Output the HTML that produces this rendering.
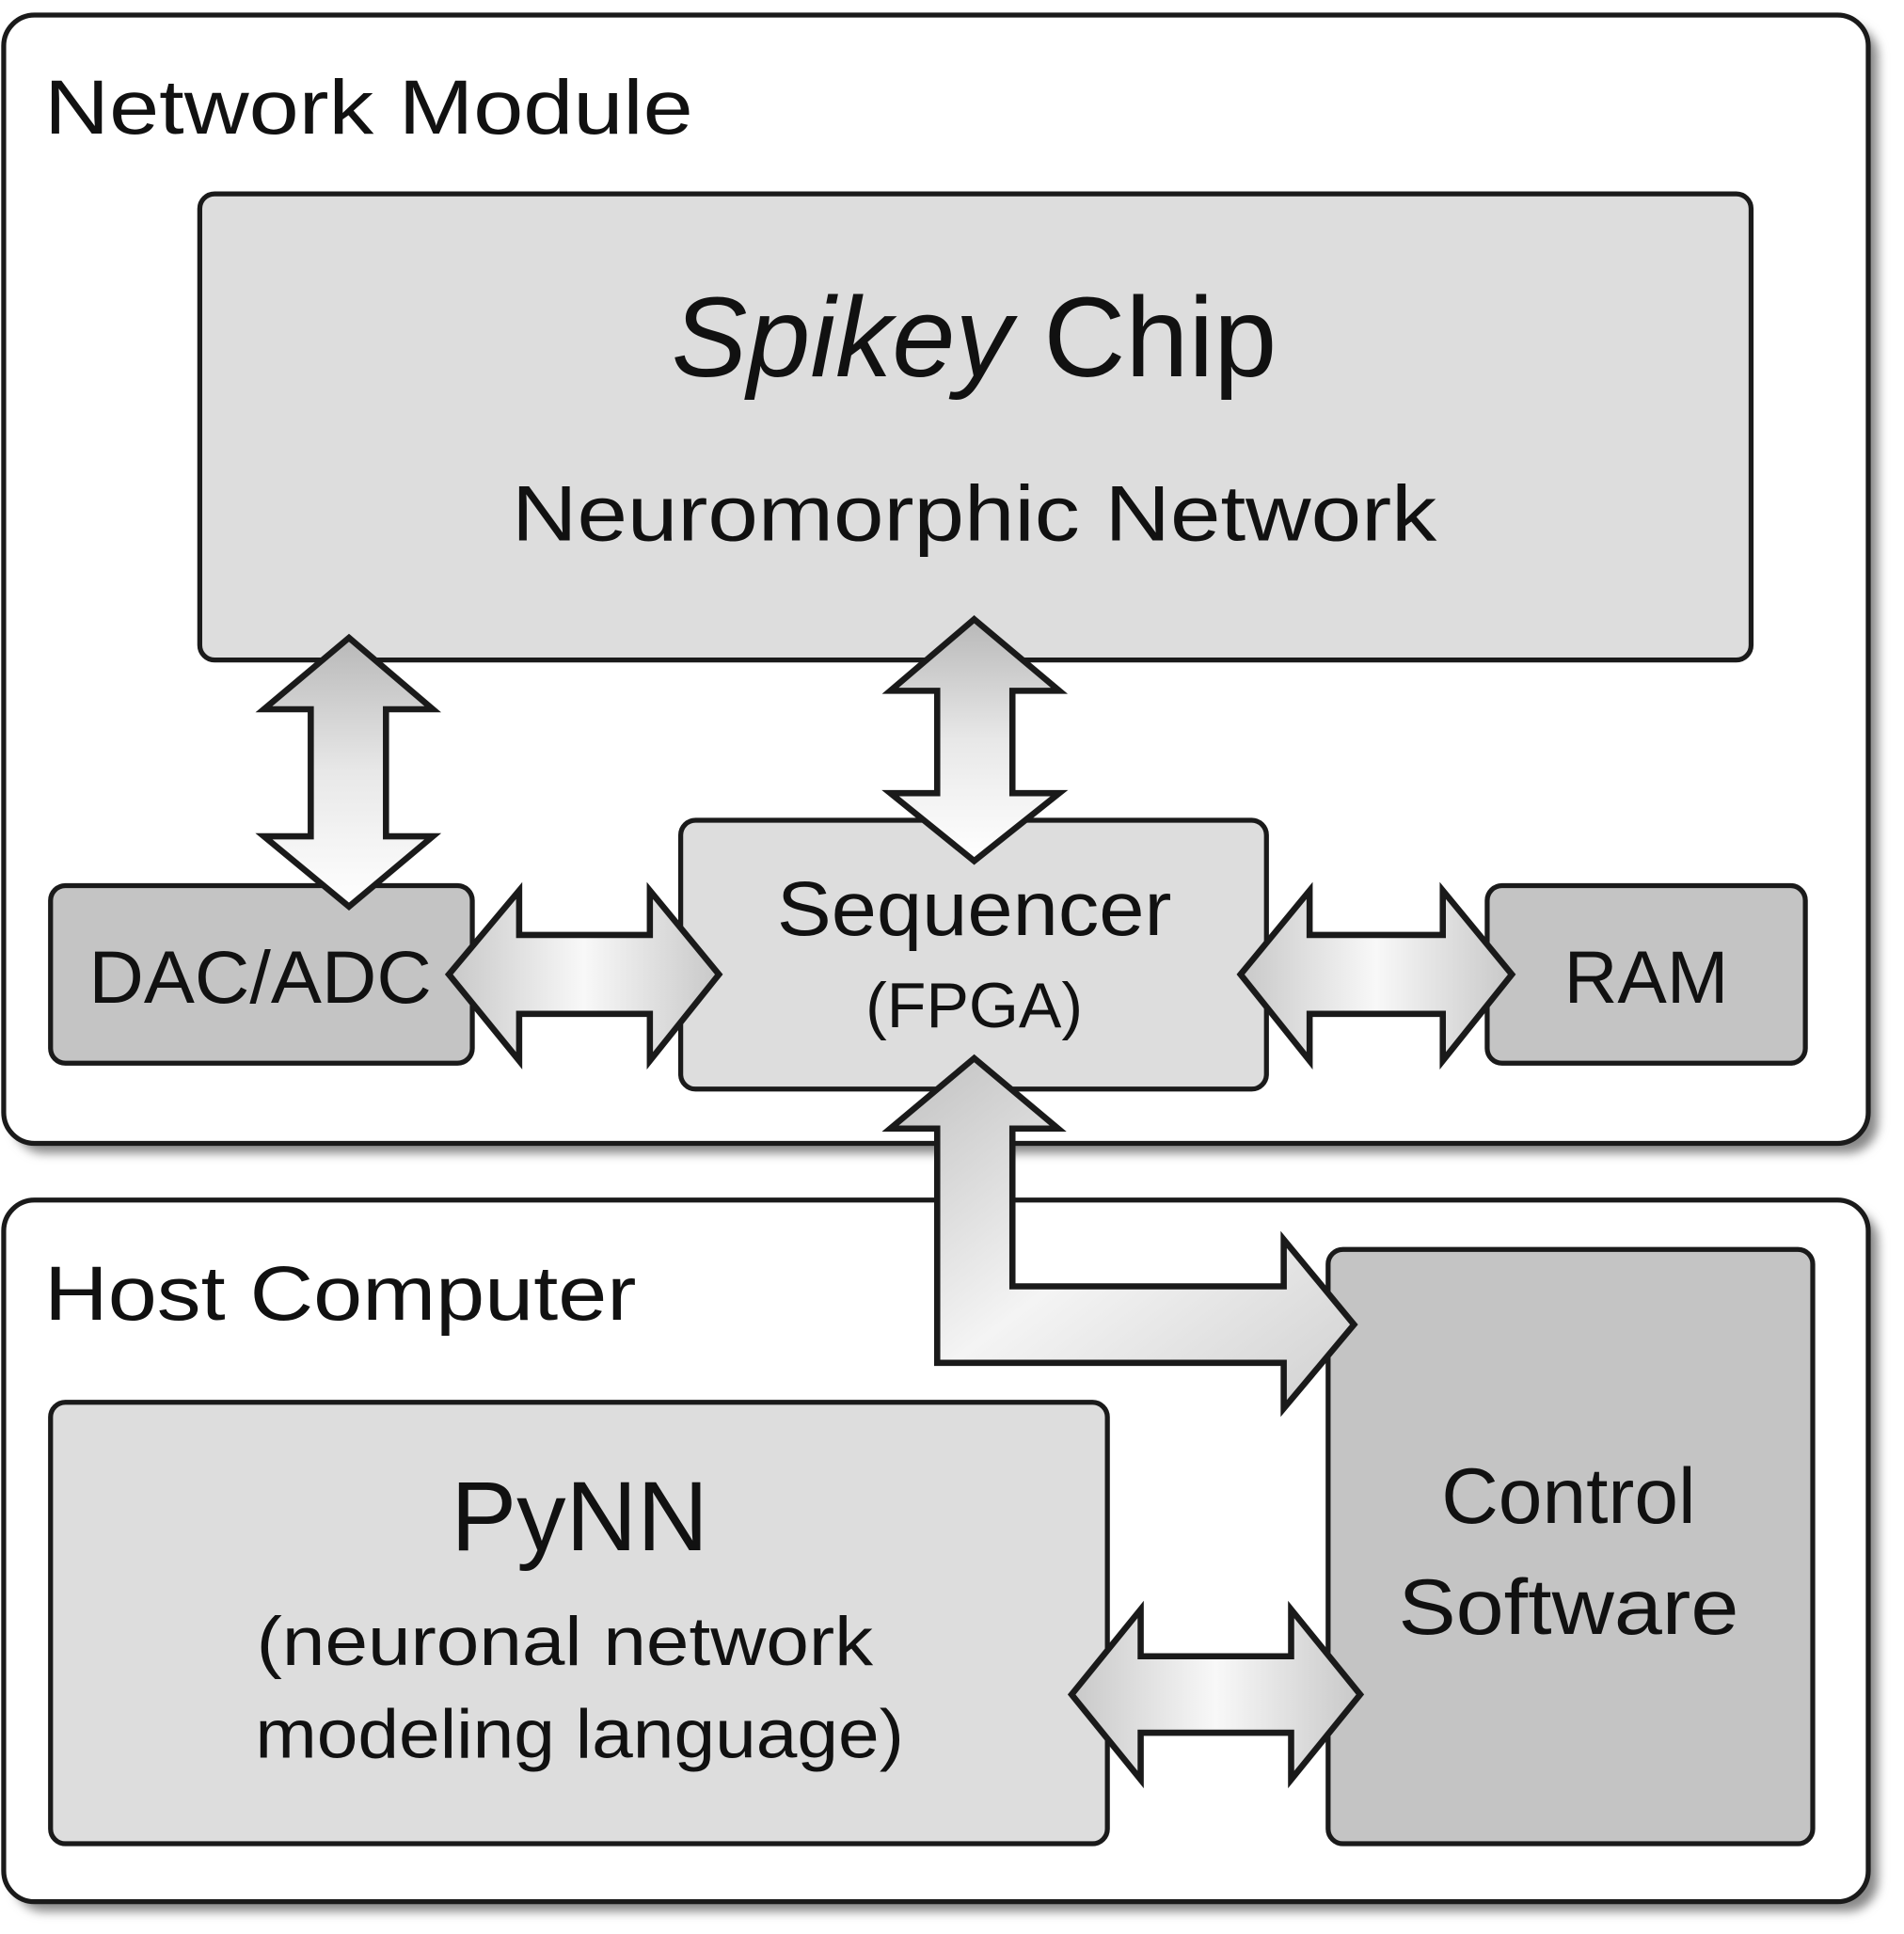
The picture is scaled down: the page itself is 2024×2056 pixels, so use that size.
<!DOCTYPE html>
<html><head><meta charset="utf-8"><style>html,body{margin:0;padding:0;background:#fff}svg{display:block}</style></head><body>
<svg width="2024" height="2056" viewBox="0 0 1544 1568" xmlns="http://www.w3.org/2000/svg" font-family="Liberation Sans, sans-serif">
<defs>
<linearGradient id="gv" x1="0" y1="0" x2="0" y2="1"><stop offset="0" stop-color="#b8b8b8"/><stop offset="0.5" stop-color="#e8e8e8"/><stop offset="1" stop-color="#fff"/></linearGradient>
<linearGradient id="gh" x1="0" y1="0" x2="1" y2="0"><stop offset="0" stop-color="#c8c8c8"/><stop offset="0.5" stop-color="#f8f8f8"/><stop offset="1" stop-color="#c8c8c8"/></linearGradient>
<linearGradient id="gl" x1="0" y1="0" x2="1" y2="1"><stop offset="0" stop-color="#c0c0c0"/><stop offset="0.5" stop-color="#f4f4f4"/><stop offset="1" stop-color="#d0d0d0"/></linearGradient>
<filter id="sh" x="-5%" y="-5%" width="110%" height="110%"><feGaussianBlur stdDeviation="4"/></filter>
</defs>
<g fill="#888" filter="url(#sh)">
<rect x="11" y="20" width="1512" height="915" rx="25"/>
<rect x="11" y="981" width="1512" height="569" rx="25"/>
</g>
<g stroke="#1a1a1a" stroke-width="4">
<rect x="3" y="12" width="1512" height="915" rx="25" fill="#fff"/>
<rect x="3" y="973" width="1512" height="569" rx="25" fill="#fff"/>
<rect x="162" y="157" width="1258" height="378" rx="12" fill="#dddddd"/>
<rect x="41" y="718" width="342" height="144" rx="12" fill="#c4c4c4"/>
<rect x="552" y="665" width="475" height="218" rx="12" fill="#dddddd"/>
<rect x="1206" y="718" width="258" height="144" rx="12" fill="#c4c4c4"/>
<rect x="41" y="1137" width="857" height="358" rx="12" fill="#dddddd"/>
<rect x="1077" y="1013" width="393" height="482" rx="12" fill="#c4c4c4"/>
</g>
<g stroke="#1a1a1a" stroke-width="5" stroke-linejoin="miter">
<polygon fill="url(#gv)" points="283,517 351,575 313,575 313,678 351,678 283,735 214,678 252,678 252,575 214,575"/>
<polygon fill="url(#gv)" points="790,502 859,560 821,560 821,643 859,643 790,698 722,643 760,643 760,560 722,560"/>
<polygon fill="url(#gh)" points="364,790 421,722 421,758 527,758 527,722 583,790 527,860 527,822 421,822 421,860"/>
<polygon fill="url(#gh)" points="1006,790 1062,722 1062,758 1170,758 1170,722 1226,790 1170,860 1170,822 1062,822 1062,860"/>
<polygon fill="url(#gh)" points="869,1374 925,1305 925,1343 1047,1343 1047,1305 1103,1374 1047,1443 1047,1405 925,1405 925,1443"/>
<polygon fill="url(#gl)" points="790,858 858,915 821,915 821,1043 1041,1043 1041,1005 1098,1074 1041,1142 1041,1105 760,1105 760,915 722,915"/>
</g>
<g fill="#111">
<text x="36" y="108" font-size="62" textLength="526" lengthAdjust="spacingAndGlyphs">Network Module</text>
<text x="36" y="1070" font-size="62" textLength="480" lengthAdjust="spacingAndGlyphs">Host Computer</text>
<text x="790" y="305" font-size="92" text-anchor="middle"><tspan font-style="italic">Spikey</tspan> Chip</text>
<text x="790" y="438" font-size="64" text-anchor="middle" textLength="750" lengthAdjust="spacingAndGlyphs">Neuromorphic Network</text>
<text x="790" y="758" font-size="62" text-anchor="middle" textLength="320" lengthAdjust="spacingAndGlyphs">Sequencer</text>
<text x="790" y="833" font-size="52" text-anchor="middle">(FPGA)</text>
<text x="211" y="813" font-size="60" text-anchor="middle" textLength="278" lengthAdjust="spacingAndGlyphs">DAC/ADC</text>
<text x="1335" y="813" font-size="60" text-anchor="middle">RAM</text>
<text x="470" y="1257" font-size="80" text-anchor="middle">PyNN</text>
<text x="458" y="1350" font-size="56" text-anchor="middle" textLength="500" lengthAdjust="spacingAndGlyphs">(neuronal network</text>
<text x="470" y="1425" font-size="56" text-anchor="middle" textLength="526" lengthAdjust="spacingAndGlyphs">modeling language)</text>
<text x="1272" y="1235" font-size="64" text-anchor="middle">Control</text>
<text x="1272" y="1325" font-size="64" text-anchor="middle" textLength="276" lengthAdjust="spacingAndGlyphs">Software</text>
</g>
</svg>
</body></html>
